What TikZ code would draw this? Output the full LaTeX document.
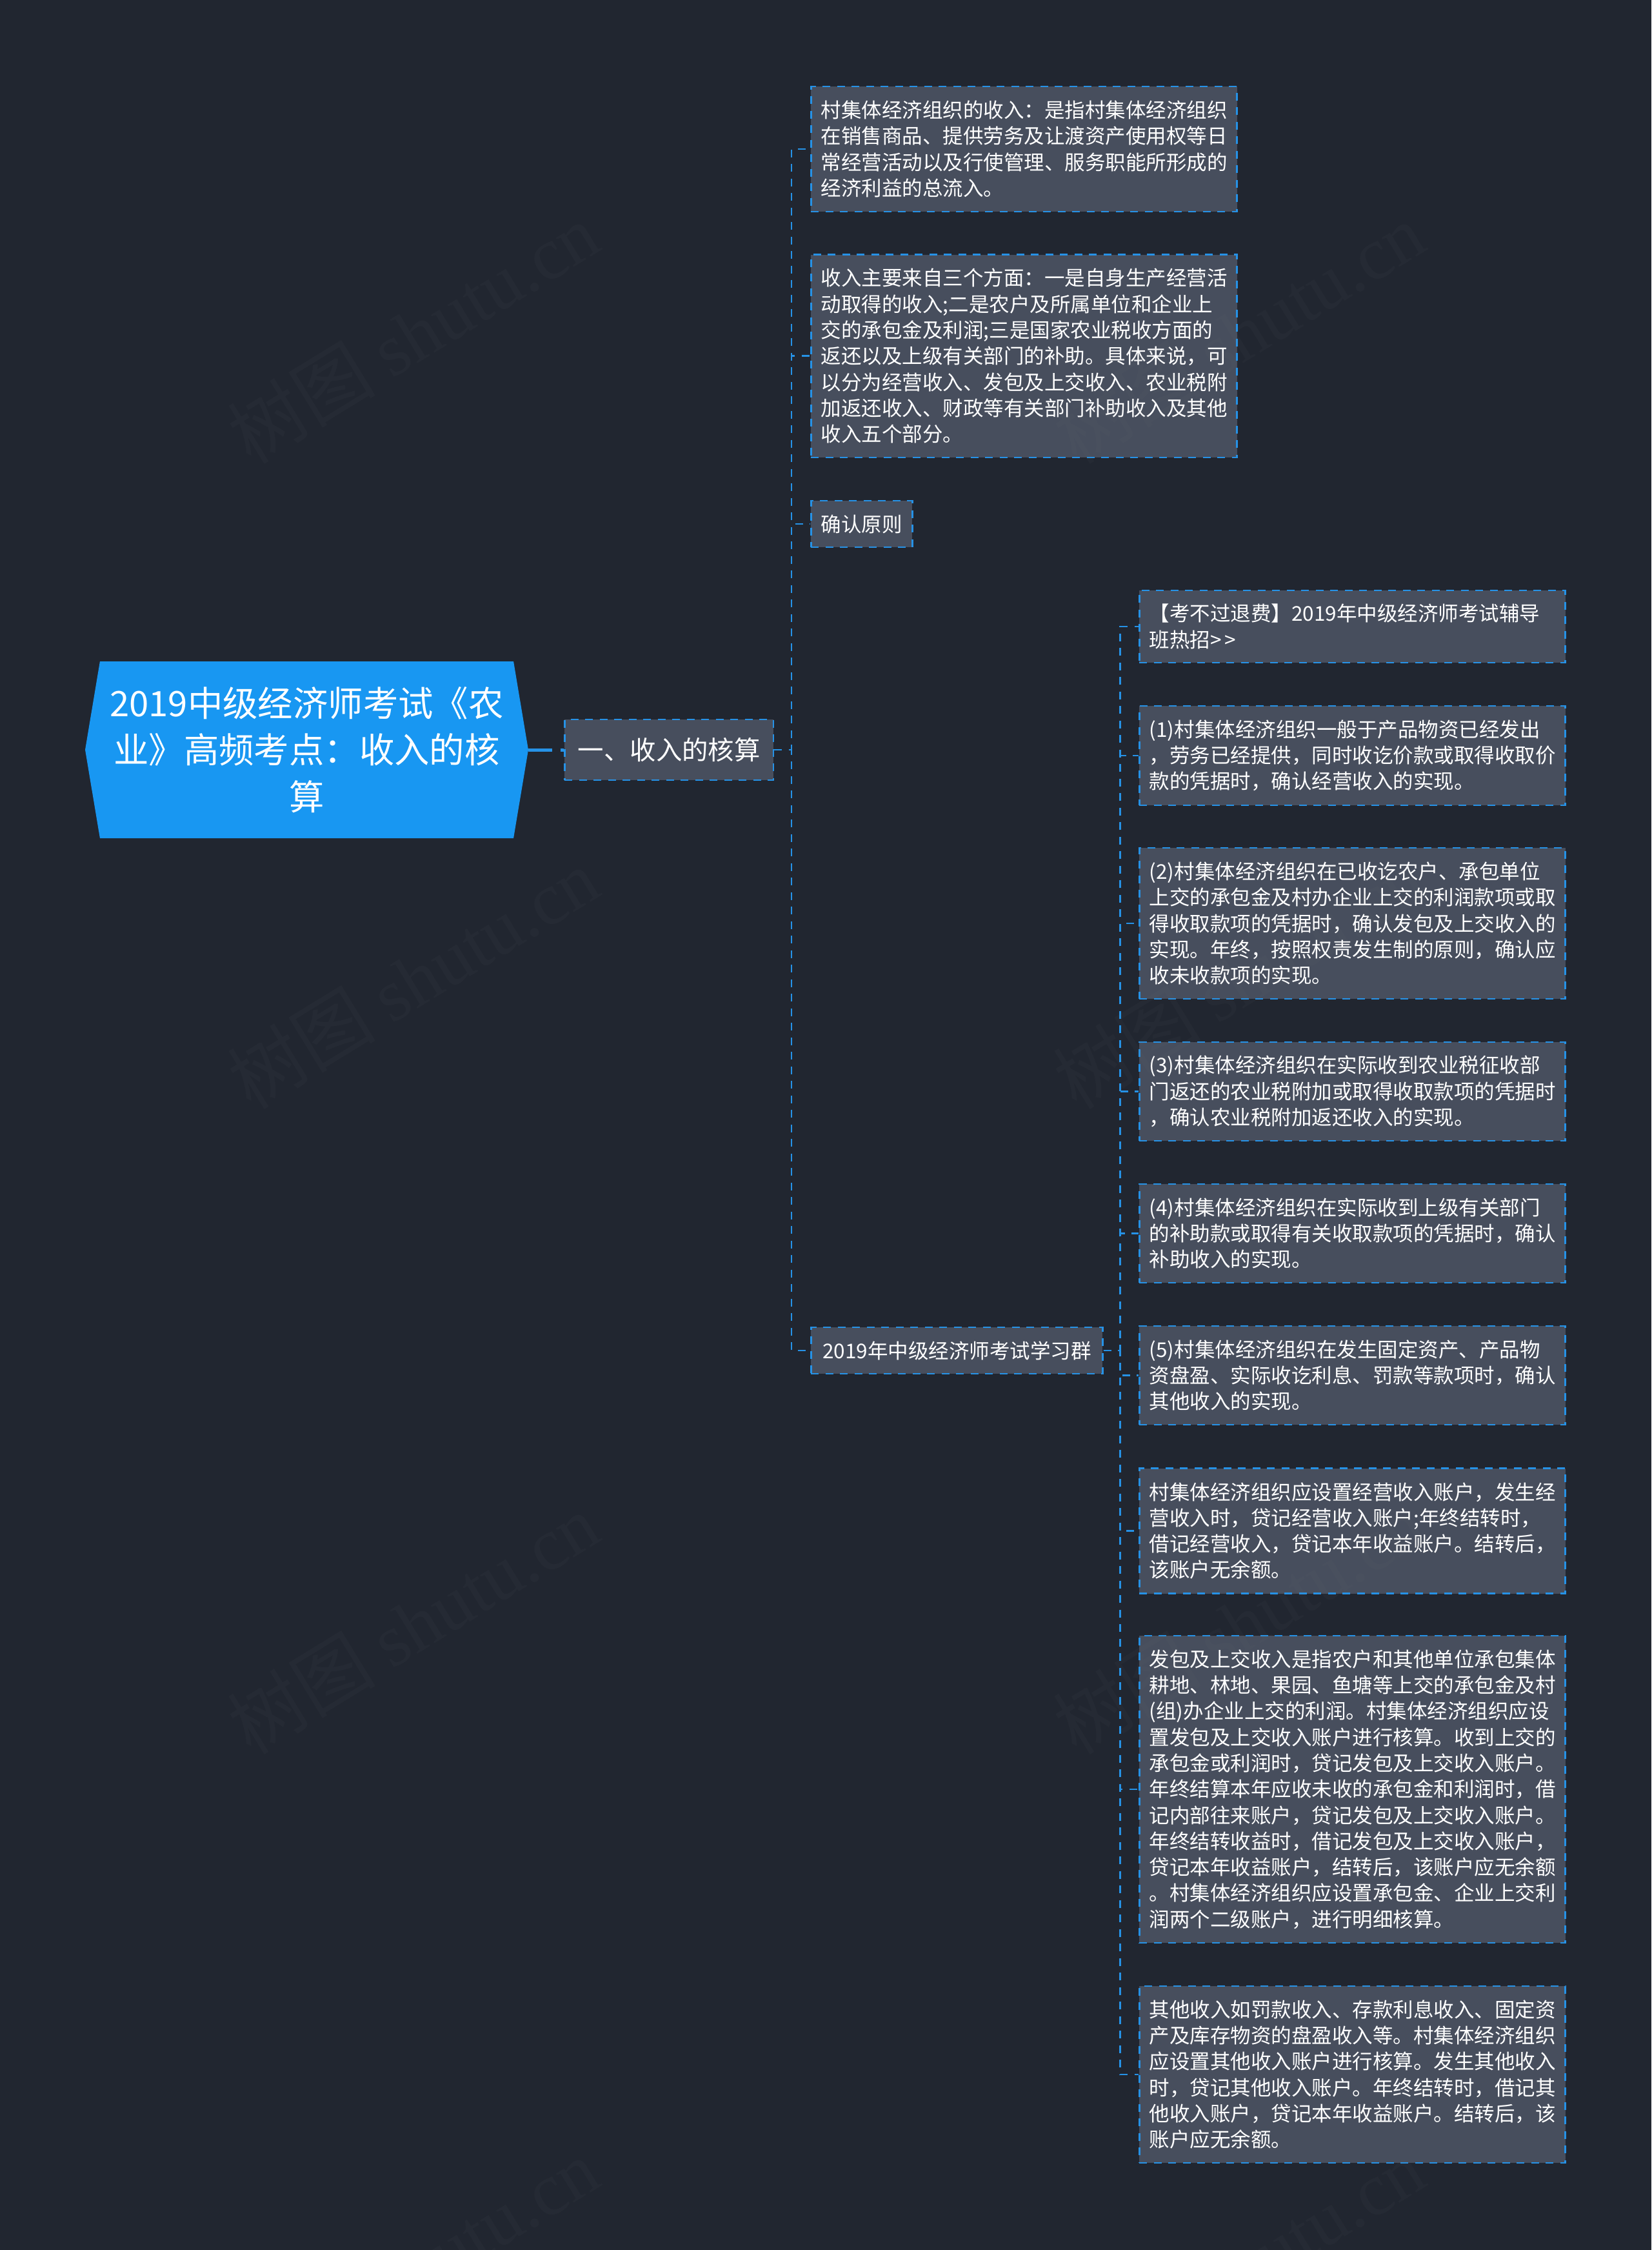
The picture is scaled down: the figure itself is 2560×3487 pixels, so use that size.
\documentclass[tikz,border=0pt]{standalone}
\usepackage{fontspec}
\setmainfont{Noto Sans CJK SC}
\newfontfamily\markfont{Liberation Serif}
\usetikzlibrary{shapes.symbols}
\definecolor{pagebg}{RGB}{33,38,48}
\definecolor{boxgray}{RGB}{71,78,93}
\definecolor{linkblue}{RGB}{38,146,230}
\definecolor{rootblue}{RGB}{24,151,242}
\tikzset{
  textbox/.style={draw=linkblue, fill=boxgray, line width=2.6pt, dash pattern=on 12pt off 10.5pt,
    text=white, inner xsep=15.5pt, inner ysep=0pt, anchor=west,
    font=\fontsize{31.5}{40.3}\selectfont},
  leafbox/.style={textbox, text width=629.4pt, align=left},
  link/.style={draw=linkblue, line width=2.6pt, dash pattern=on 12pt off 10.5pt},
  rootlink/.style={draw=linkblue, line width=5pt, dash pattern=on 37pt off 13pt},
  wmark/.style={rotate=31.5, text=gray, text opacity=0.05, inner sep=0pt,
    font=\fontsize{115}{115}\selectfont},
}
\begin{document}
\begin{tikzpicture}[x=1pt, y=-1pt]
  \useasboundingbox (0,0) rectangle (2560,3487);
  \fill [pagebg] (0,0) rectangle (2560,3487);

  \coordinate (trunk) at (1227,1162);
  \coordinate (twig) at (1736.5,2093);

  \node [signal, signal to=east and west, signal pointer angle=161, fill=rootblue, text=white,
    minimum width=687pt, minimum height=274pt, inner sep=0pt, text width=640pt, align=center,
    font=\fontsize{54.4}{72.5}\selectfont] (root) at (475.5,1162)
    {2019中级经济师考试《农\\业》高频考点：收入的核\\算};

  \node [textbox, font=\fontsize{40.4}{48}\selectfont, inner xsep=20.5pt, minimum height=94pt] (hub) at (874,1162) {一、收入的核算};

  \node [leafbox, minimum height=194pt] (income) at (1256,231)
    {村集体经济组织的收入：是指村集体经济组织\\在销售商品、提供劳务及让渡资产使用权等日\\常经营活动以及行使管理、服务职能所形成的\\经济利益的总流入。};
  \node [leafbox, minimum height=314.5pt] (source) at (1256,551.75)
    {收入主要来自三个方面：一是自身生产经营活\\动取得的收入;二是农户及所属单位和企业上\\交的承包金及利润;三是国家农业税收方面的\\返还以及上级有关部门的补助。具体来说，可\\以分为经营收入、发包及上交收入、农业税附\\加返还收入、财政等有关部门补助收入及其他\\收入五个部分。};
  \node [textbox, minimum height=72pt] (rule) at (1256,812) {确认原则};
  \node [textbox, minimum height=72pt, minimum width=452pt] (group) at (1256,2093) {2019年中级经济师考试学习群};

  \node [leafbox, minimum height=112pt] (ad) at (1765,971)
    {【考不过退费】2019年中级经济师考试辅导\\班热招>\kern5pt>};
  \node [leafbox, minimum height=154pt] (one) at (1765,1171)
    {(1)村集体经济组织一般于产品物资已经发出\\，劳务已经提供，同时收讫价款或取得收取价\\款的凭据时，确认经营收入的实现。};
  \node [leafbox, minimum height=234pt] (two) at (1765,1431)
    {(2)村集体经济组织在已收讫农户、承包单位\\上交的承包金及村办企业上交的利润款项或取\\得收取款项的凭据时，确认发包及上交收入的\\实现。年终，按照权责发生制的原则，确认应\\收未收款项的实现。};
  \node [leafbox, minimum height=153pt] (three) at (1765,1691.5)
    {(3)村集体经济组织在实际收到农业税征收部\\门返还的农业税附加或取得收取款项的凭据时\\，确认农业税附加返还收入的实现。};
  \node [leafbox, minimum height=153pt] (four) at (1765,1911.5)
    {(4)村集体经济组织在实际收到上级有关部门\\的补助款或取得有关收取款项的凭据时，确认\\补助收入的实现。};
  \node [leafbox, minimum height=153pt] (five) at (1765,2131.5)
    {(5)村集体经济组织在发生固定资产、产品物\\资盘盈、实际收讫利息、罚款等款项时，确认\\其他收入的实现。};
  \node [leafbox, minimum height=194pt] (account) at (1765,2372.5)
    {村集体经济组织应设置经营收入账户，发生经\\营收入时，贷记经营收入账户;年终结转时，\\借记经营收入，贷记本年收益账户。结转后，\\该账户无余额。};
  \node [leafbox, minimum height=476pt] (contract) at (1765,2773)
    {发包及上交收入是指农户和其他单位承包集体\\耕地、林地、果园、鱼塘等上交的承包金及村\\(组)办企业上交的利润。村集体经济组织应设\\置发包及上交收入账户进行核算。收到上交的\\承包金或利润时，贷记发包及上交收入账户。\\年终结算本年应收未收的承包金和利润时，借\\记内部往来账户，贷记发包及上交收入账户。\\年终结转收益时，借记发包及上交收入账户，\\贷记本年收益账户，结转后，该账户应无余额\\。村集体经济组织应设置承包金、企业上交利\\润两个二级账户，进行明细核算。};
  \node [leafbox, minimum height=274pt] (other) at (1765,3215)
    {其他收入如罚款收入、存款利息收入、固定资\\产及库存物资的盘盈收入等。村集体经济组织\\应设置其他收入账户进行核算。发生其他收入\\时，贷记其他收入账户。年终结转时，借记其\\他收入账户，贷记本年收益账户。结转后，该\\账户应无余额。};

  \draw [rootlink] (root.east) -- (hub.west);
  \foreach \leaf in {income,source,rule,group}
    \draw [link] (hub.east) -- (trunk) |- (\leaf.west);
  \foreach \leaf in {ad,one,two,three,four,five,account,contract,other}
    \draw [link] (group.east) -- (twig) |- (\leaf.west);

  \begin{scope}
    \clip (0,0) rectangle (2560,3487);
    \foreach \wx in {640,1920}
      \foreach \wy in {516,1516,2516,3516}
        \node [wmark] (mark-\wx-\wy) at (\wx,\wy) {树图 {\markfont shutu.cn}};
  \end{scope}
\end{tikzpicture}
\end{document}
